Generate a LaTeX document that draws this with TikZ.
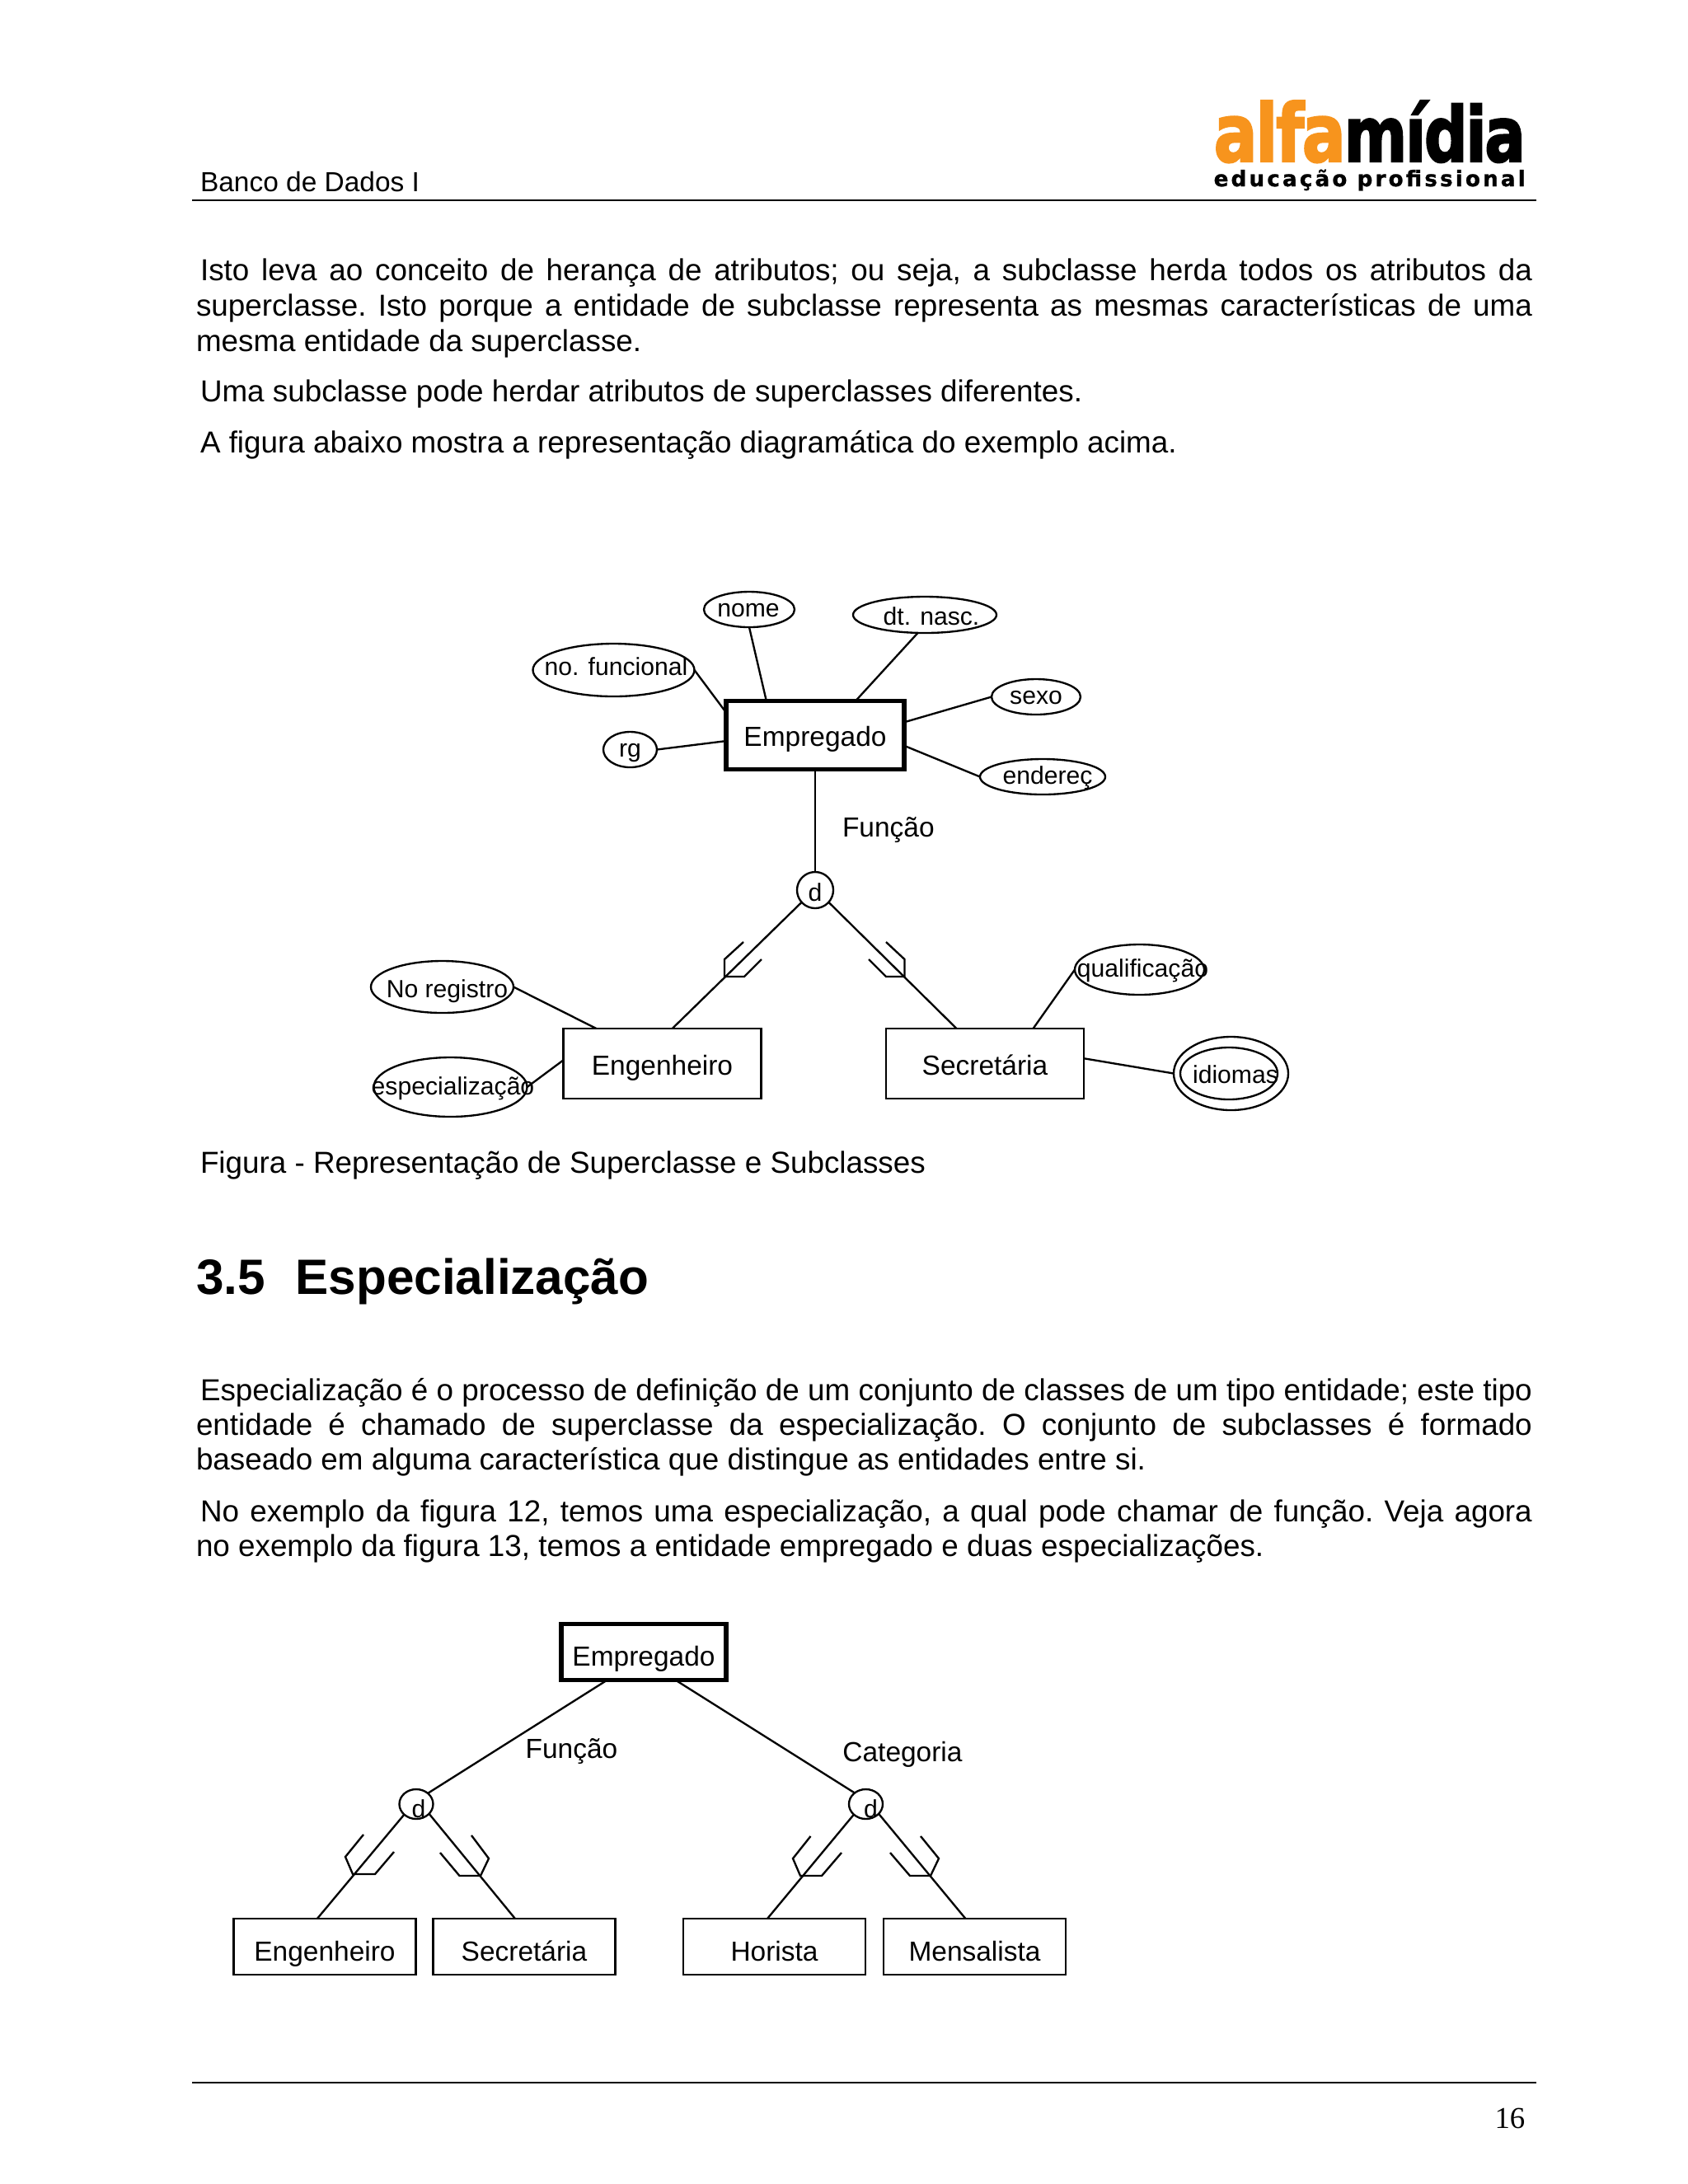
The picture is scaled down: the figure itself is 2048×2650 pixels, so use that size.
\documentclass[tikz,border=0pt]{standalone}
\usepackage{fontspec}
\setmainfont{Liberation Sans}
\newfontfamily\serifnum{Liberation Serif}
\newfontfamily\logofont[LetterSpace=-3,FakeBold=2.5]{DejaVu Sans Bold}
\newfontfamily\logosub[LetterSpace=12,FakeBold=1]{DejaVu Sans Bold}
\usetikzlibrary{shapes.geometric}
\definecolor{alfaorange}{HTML}{F7941D}
\newlength{\px}
\setlength{\px}{0.2988pt}

\begin{document}
\begin{tikzpicture}[x=\px, y=-\px]

    % --- Styles ---
    \tikzset{
        linha/.style={line width=0.8pt},
        traco/.style={line width=0.7pt},
        corpo/.style={anchor=north west, inner sep=0pt, outer sep=0pt, text width=1621\px, align=justify, font=\fontsize{11}{12.85}\selectfont\frenchspacing},
        corpob/.style={corpo, font=\fontsize{11}{12.6}\selectfont\frenchspacing},
        solto/.style={anchor=base west, inner sep=0pt, outer sep=0pt, font=\fontsize{11}{12.85}\selectfont},
        rotulo/.style={inner sep=0pt, outer sep=0pt, font=\fontsize{10}{12}\selectfont},
        pequeno/.style={inner sep=0pt, outer sep=0pt, text height=7.6pt, text depth=2pt, font=\fontsize{9}{11}\selectfont},
        rot/.style 2 args={pequeno, xshift=#1*\px, yshift=-#2*\px},
        atrib/.style 2 args={draw, shape=ellipse, traco, inner sep=0pt, outer sep=0pt, minimum width=#1*\px, minimum height=#2*\px},
        caixa/.style 2 args={draw, traco, inner sep=0pt, outer sep=0pt, text height=10.4pt, text depth=2.2pt, font=\fontsize{10}{12}\selectfont, minimum width=#1*\px, minimum height=#2*\px},
        forte/.style={line width=1.5pt}
    }

    \useasboundingbox (0,0) rectangle (2048,2650);

    % --- Cabecalho ---
    \node[solto, font=\fontsize{10}{12}\selectfont] (Banco) at (243,232) {Banco de Dados I};
    \draw[linha] (233,243) -- (1864,243);
    \node[inner sep=0pt, anchor=base west, text=alfaorange] (LogoA) at (1472,196) {\resizebox{160\px}{74\px}{\logofont alfa}};
    \node[inner sep=0pt, anchor=base west] (LogoB) at (1630,196) {\resizebox{220\px}{74\px}{\logofont mídia}};
    \node[inner sep=0pt, anchor=base west] (LogoC) at (1472,226) {\resizebox{378\px}{!}{\logosub educação profissional}};

    % --- Texto de cima ---
    \node[corpo] (Par1) at (238,313.5) {\hspace*{1.5pt}Isto leva ao conceito de herança de atributos; ou seja, a subclasse herda todos os atributos da\linebreak superclasse. Isto porque a entidade de subclasse representa as mesmas características de uma\linebreak mesma entidade da superclasse.};
    \node[solto] (Par2) at (243,487) {Uma subclasse pode herdar atributos de superclasses diferentes.};
    \node[solto] (Par3) at (243,549) {A figura abaixo mostra a representação diagramática do exemplo acima.};

    % --- Figura 1 : entidade e atributos ---
    \node[caixa={216}{83}, forte] (Emp1) at (989,891.5) {Empregado};
    \node[atrib={110}{43}, label={[rot={-1}{0}]center:nome}] (Nome) at (909,739.5) {};
    \node[atrib={174}{44}, label={[rot={8}{3}]center:dt. nasc.}] (DtNasc) at (1122,746) {};
    \node[atrib={196}{64}, label={[rot={3}{-3}]center:no. funcional}] (NoFunc) at (744.5,813) {};
    \node[atrib={108}{43}, label={[rot={0}{0}]center:sexo}] (Sexo) at (1257,845.5) {};
    \node[atrib={152}{43}, label={[rot={6}{0}]center:endereç}] (Ender) at (1265,942.5) {};
    \node[atrib={65}{43}, label={[rot={0}{0}]center:rg}] (Rg) at (764.5,909.5) {};
    \node[atrib={44}{44}, label={[rot={0}{4}]center:d}] (D1) at (989,1080) {};
    \node[rotulo, anchor=base west] (Func1) at (1022,1015) {Função};

    \draw[traco] (Nome.south) -- (Emp1.145);
    \draw[traco] (DtNasc.249) -- (Emp1.40);
    \draw[traco] (NoFunc.east) -- (Emp1.166);
    \draw[traco] (Sexo.west) -- (Emp1.8);
    \draw[traco] (Ender.west) -- (Emp1.-7);
    \draw[traco] (Rg.east) -- (Emp1.184);
    \draw[traco] (Emp1.south) -- (D1.north);

    % --- Figura 1 : subclasses ---
    \node[caixa={240}{85}] (Eng1) at (803.5,1290.5) {Engenheiro};
    \node[caixa={240}{85}] (Sec1) at (1195,1290.5) {Secretária};
    \node[atrib={173}{63}, label={[rot={6}{4}]center:No registro}] (NoReg) at (536.5,1197.5) {};
    \node[atrib={186}{72}, label={[rot={3}{0}]center:especialização}] (Espec) at (546.5,1319) {};
    \node[atrib={157}{61}, label={[rot={4}{0}]center:qualificação}] (Qualif) at (1382.5,1176.5) {};
    \node[atrib={139}{89}] (IdiomasExt) at (1493.5,1302.5) {};
    \node[atrib={118}{63}, label={[rot={8}{3}]center:idiomas}] (Idiomas) at (1491,1302.5) {};

    \draw[traco] (D1.222) -- (Eng1.74);
    \draw[traco] (D1.-42) -- (Sec1.129);
    \draw[traco] (NoReg.east) -- (Eng1.152);
    \draw[traco] (Espec.east) -- (Eng1.178);
    \draw[traco] (Qualif.west) -- (Sec1.36);
    \draw[traco] (IdiomasExt.west) -- (Sec1.3);

    % Marcas de subconjunto
    \draw[traco] (902,1143) -- (879,1164) -- (879,1185) -- (903,1185) -- (924,1164);
    \draw[traco] (1075,1143) -- (1097.5,1164) -- (1097.5,1185) -- (1075,1185) -- (1054,1164);

    % --- Texto do meio ---
    \node[solto] (Legenda) at (243,1423.5) {Figura - Representação de Superclasse e Subclasses};
    \node[solto, font=\fontsize{18}{22}\selectfont\bfseries] (Titulo) at (238,1570) {3.5\hspace{11pt}Especialização};
    \node[corpob] (Par4) at (238,1672.5) {\hspace*{1.5pt}Especialização é o processo de definição de um conjunto de classes de um tipo entidade; este tipo\linebreak entidade é chamado de superclasse da especialização. O conjunto de subclasses é formado\linebreak baseado em alguma característica que distingue as entidades entre si.};
    \node[corpob] (Par5) at (238,1819.5) {\hspace*{1.5pt}No exemplo da figura 12, temos uma especialização, a qual pode chamar de função. Veja agora\linebreak no exemplo da figura 13, temos a entidade empregado e duas especializações.};

    % --- Figura 2 ---
    \node[caixa={200}{68}, forte, text height=12.4pt] (Emp2) at (781,2004) {Empregado};
    \node[atrib={41}{36}, label={[rot={3}{7}]center:d}] (D2) at (505,2189) {};
    \node[atrib={41}{36}, label={[rot={6}{7}]center:d}] (D3) at (1050.5,2189) {};
    \node[caixa={221}{68}, text height=12.4pt] (Eng2) at (394,2362) {Engenheiro};
    \node[caixa={221}{68}, text height=12.4pt] (Sec2) at (636,2362) {Secretária};
    \node[caixa={221}{68}, text height=12.4pt] (Hor) at (939.5,2362) {Horista};
    \node[caixa={221}{68}, text height=12.4pt] (Mens) at (1182.5,2362) {Mensalista};
    \node[rotulo, anchor=base] (Func2) at (693.5,2133) {Função};
    \node[rotulo, anchor=base] (Categ) at (1095,2137) {Categoria};

    \draw[traco] (Emp2.218) -- (D2.43);
    \draw[traco] (Emp2.-42) -- (D3.135);
    \draw[traco] (D2.221) -- (Eng2.105);
    \draw[traco] (D2.-37) -- (Sec2.108);
    \draw[traco] (D3.221) -- (Hor.104);
    \draw[traco] (D3.-37) -- (Mens.108);

    % Marcas de subconjunto
    \draw[traco] (441,2226) -- (419,2253) -- (428,2274) -- (455,2274) -- (478,2247);
    \draw[traco] (572,2227) -- (593,2255) -- (583,2276) -- (557.5,2276) -- (534,2248);
    \draw[traco] (983.5,2228) -- (962,2255) -- (971,2276) -- (997,2276) -- (1021,2248);
    \draw[traco] (1117,2228) -- (1139,2255) -- (1129,2276) -- (1104,2276) -- (1080,2248);

    % --- Rodape ---
    \draw[linha] (233,2527) -- (1864,2527);
    \node[anchor=base east, inner sep=0pt, font=\fontsize{11}{13}\serifnum] (Pagina) at (1851,2582) {16};

\end{tikzpicture}
\end{document}
